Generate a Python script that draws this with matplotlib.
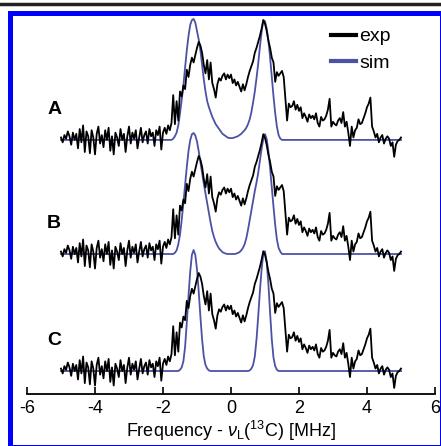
import numpy as np
import matplotlib
matplotlib.use("Agg")
import matplotlib.pyplot as plt
from matplotlib.patches import Rectangle
from matplotlib.lines import Line2D

plt.rcParams['font.family'] = ['Liberation Sans', 'DejaVu Sans']
plt.rcParams['mathtext.fontset'] = 'custom'
plt.rcParams['mathtext.rm'] = 'Liberation Sans'
plt.rcParams['mathtext.it'] = 'Liberation Sans:italic'
plt.rcParams['mathtext.bf'] = 'Liberation Sans:bold'

# experimental spectrum (same trace under every simulation), x = -5 .. 5 step 0.05
exp_x = np.round(np.arange(-5.0, 5.0001, 0.05), 2)
exp_y = [
    0.02, -0.02, 0.04, 0.01, 0.07, 0.03, -0.04, 0.06, 0.00, 0.05,
    -0.07, 0.09, -0.02, 0.12, -0.10, 0.07, 0.03, -0.11, 0.08, 0.02,
    -0.12, 0.05, 0.11, -0.03, 0.04, -0.06, 0.08, 0.00, 0.10, -0.09,
    0.03, -0.12, 0.06, 0.02, -0.05, 0.09, 0.00, 0.05, -0.10, 0.03,
    0.11, -0.03, 0.06, 0.01, 0.08, -0.07, 0.02, 0.10, -0.02, 0.04,
    0.07, -0.03, 0.09, 0.03, 0.06, -0.05, 0.08, 0.04, 0.11, -0.08,
    0.06, 0.10, 0.05, 0.12, 0.08, 0.14, 0.37, 0.13, 0.32, 0.16,
    0.40, 0.36, 0.45, 0.42, 0.58, 0.52, 0.62, 0.68, 0.64, 0.70,
    0.76, 0.81, 0.78, 0.72, 0.62, 0.55, 0.66, 0.50, 0.64, 0.47,
    0.42, 0.35, 0.46, 0.51, 0.49, 0.53, 0.55, 0.50, 0.54, 0.51,
    0.54, 0.47, 0.50, 0.45, 0.48, 0.44, 0.40, 0.46, 0.41, 0.46,
    0.52, 0.57, 0.61, 0.65, 0.72, 0.76, 0.81, 0.86, 0.92, 0.99,
    0.96, 0.90, 0.82, 0.76, 0.68, 0.64, 0.48, 0.56, 0.53, 0.55,
    0.57, 0.52, 0.34, 0.16, 0.30, 0.27, 0.28, 0.32, 0.25, 0.29,
    0.24, 0.27, 0.18, 0.22, 0.19, 0.15, 0.21, 0.18, 0.20, 0.17,
    0.22, 0.14, 0.11, 0.19, 0.16, 0.17, 0.20, 0.25, 0.34, 0.11,
    0.15, 0.13, 0.12, 0.16, 0.18, 0.14, 0.23, 0.11, 0.15, 0.06,
    -0.05, 0.11, 0.02, 0.08, 0.10, 0.17, 0.13, 0.14, 0.18, 0.22,
    0.27, 0.30, 0.35, 0.11, 0.07, 0.02, 0.05, -0.02, 0.02, 0.04,
    -0.03, 0.01, 0.03, 0.01, -0.05, -0.02, -0.14, -0.04, -0.01, 0.00,
    0.02,
]

# simulations, x = -5, then -1.8 .. 1.8 step 0.05, then 5
sim_x = np.concatenate([[-5.0], np.round(np.arange(-1.8, 1.8001, 0.05), 2), [5.0]])
sim_a = [0.0,
    0.00, 0.00, 0.01, 0.03, 0.06, 0.12, 0.22, 0.33, 0.45, 0.60,
    0.74, 0.86, 0.95, 0.99, 1.00, 0.97, 0.90, 0.83, 0.74, 0.62,
    0.50, 0.40, 0.32, 0.27, 0.23, 0.19, 0.16, 0.13, 0.11, 0.09,
    0.07, 0.05, 0.04, 0.03, 0.02, 0.015, 0.015, 0.015, 0.02, 0.025,
    0.03, 0.04, 0.05, 0.065, 0.08, 0.10, 0.13, 0.17, 0.23, 0.31,
    0.40, 0.51, 0.63, 0.77, 0.89, 0.99, 0.98, 0.92, 0.82, 0.68,
    0.52, 0.36, 0.22, 0.11, 0.04, 0.01, 0.00, 0.00, 0.00, 0.00,
    0.00, 0.00, 0.00,
    0.0]
sim_b = [0.0,
    0.00, 0.00, 0.00, 0.01, 0.03, 0.08, 0.16, 0.28, 0.42, 0.57,
    0.72, 0.85, 0.94, 0.99, 1.00, 0.98, 0.93, 0.85, 0.76, 0.67,
    0.58, 0.50, 0.42, 0.34, 0.26, 0.19, 0.14, 0.10, 0.07, 0.045,
    0.03, 0.015, 0.008, 0.003, 0.00, 0.00, 0.00, 0.00, 0.00, 0.003,
    0.008, 0.015, 0.03, 0.05, 0.08, 0.13, 0.20, 0.28, 0.36, 0.44,
    0.52, 0.59, 0.67, 0.77, 0.87, 0.95, 0.99, 0.95, 0.85, 0.71,
    0.55, 0.39, 0.24, 0.12, 0.05, 0.02, 0.00, 0.00, 0.00, 0.00,
    0.00, 0.00, 0.00,
    0.0]
sim_c = [0.0,
    0.00, 0.00, 0.00, 0.00, 0.00, 0.00, 0.01, 0.03, 0.08, 0.20,
    0.40, 0.62, 0.82, 0.96, 1.00, 0.96, 0.84, 0.66, 0.45, 0.26,
    0.12, 0.05, 0.02, 0.005, 0.00, 0.00, 0.00, 0.00, 0.00, 0.00,
    0.00, 0.00, 0.00, 0.00, 0.00, 0.00, 0.00, 0.00, 0.00, 0.00,
    0.00, 0.00, 0.00, 0.00, 0.00, 0.00, 0.00, 0.005, 0.02, 0.05,
    0.12, 0.26, 0.45, 0.66, 0.84, 0.97, 0.99, 0.90, 0.72, 0.48,
    0.26, 0.11, 0.04, 0.01, 0.00, 0.00, 0.00, 0.00, 0.00, 0.00,
    0.00, 0.00, 0.00,
    0.0]

panels = ['A', 'B', 'C']
offsets = [1.91, 0.967, 0.0]
sims = [sim_a, sim_b, sim_c]

exp_color = 'black'
sim_color = '#4b52a6'

W, H = 441, 446
fig = plt.figure(figsize=(W / 100, H / 100), dpi=100)
ax = fig.add_axes([27 / W, 1 - 394 / H, 408 / W, 378 / H])

for name, off, sim in zip(panels, offsets, sims):
    ax.plot(sim_x, np.array(sim) + off, color=sim_color, lw=1.3,
            label='sim' if name == 'A' else None, zorder=2)
    ax.plot(exp_x, np.array(exp_y) + off, color=exp_color, lw=1.3,
            label='exp' if name == 'A' else None, zorder=3)
    ax.text(-5.2, off + 0.25, name, fontsize=14, fontweight='bold',
            ha='center', va='center')

ax.set_xlim(-6, 6)
ax.set_ylim(-0.19, 2.934)
ax.set_xticks([-6, -4, -2, 0, 2, 4, 6])
ax.set_xticklabels(['-6', '-4', '-2', '0', '2', '4', '6'])
ax.set_yticks([])
for s in ['left', 'right', 'top']:
    ax.spines[s].set_visible(False)
ax.spines['bottom'].set_linewidth(1.3)
ax.tick_params(axis='x', direction='in', length=5, width=1.2, pad=4, labelsize=13)
ax.set_xlabel('Frequency - $\\nu_{\\mathrm{L}}$($^{13}$C) [MHz]', fontsize=13, labelpad=2)

handles, labels = ax.get_legend_handles_labels()
order = [labels.index('exp'), labels.index('sim')]
leg = ax.legend([handles[i] for i in order], [labels[i] for i in order],
                frameon=False, fontsize=14, handlelength=1.3, handletextpad=0.15,
                labelspacing=0.45, borderpad=0, loc='upper left',
                bbox_to_anchor=(321 / W, 1 - 18 / H), bbox_transform=fig.transFigure)
for ln in leg.get_lines():
    ln.set_linewidth(3)

# frame decorations of the original figure
fig.patches.append(Rectangle((9.5 / W, 1 - 447 / H), (441.5 - 9.5) / W, (447 - 13.5) / H,
                             transform=fig.transFigure, fill=False,
                             edgecolor='#0000ff', lw=3.6, zorder=10))
fig.lines.append(Line2D([0, 1], [1 - 3.5 / H, 1 - 3.5 / H], transform=fig.transFigure,
                        color='#222222', lw=2.5))

fig.savefig('out.png', dpi=100)
